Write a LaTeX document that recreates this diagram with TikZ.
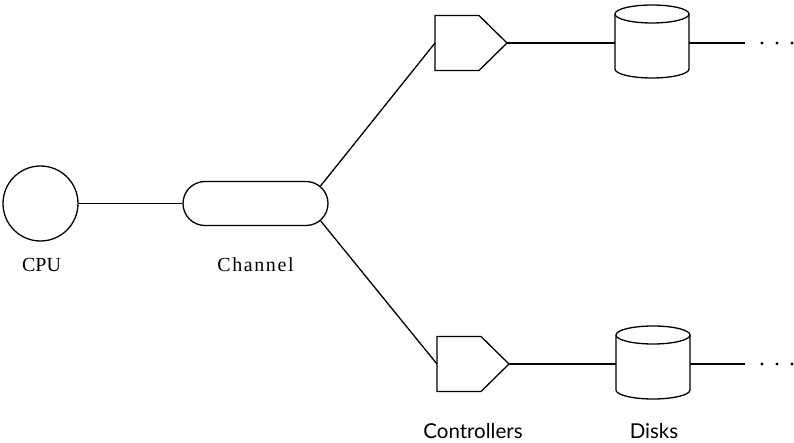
\documentclass[tikz,border=0pt]{standalone}
\usepackage{fontspec}
\setmainfont{Liberation Serif}
\newfontfamily\labelsans{Lato}
\usetikzlibrary{shapes.misc}

\tikzset{
  wire/.style={line width=1.3pt},
  hidden/.style={inner sep=0pt, outer sep=0pt},
  cpubox/.style={circle, draw, line width=1.3pt, minimum size=75pt, inner sep=0pt},
  chanbox/.style={rounded rectangle, draw, line width=1.3pt, minimum width=145pt, minimum height=44pt, inner sep=0pt},
  ctrlbox/.style={hidden, minimum width=72pt, minimum height=55pt},
  diskbox/.style={hidden, minimum width=74pt, minimum height=73pt},
  seriflabel/.style={anchor=base, inner sep=0pt, font=\fontsize{20}{24}\selectfont},
  sanslabel/.style={anchor=base, inner sep=0pt, font=\labelsans\fontsize{20.5}{24}\selectfont},
  dot/.style={circle, fill, inner sep=0pt, minimum size=3.2pt}
}

\begin{document}
\begin{tikzpicture}[x=1pt, y=-1pt]
\useasboundingbox (0,0) rectangle (794,443);

% processor and channel
\node[cpubox] (cpu) at (40.5,203.5) {};
\node[chanbox] (chan) at (255.5,203.5) {};
% centre of the channel's right-hand end, where the branches start
\node[hidden, circle, minimum size=44pt] (chanR) at (306.5,203.5) {};

% controllers
\node[ctrlbox] (c1) at (471,43) {};
\node[ctrlbox] (c2) at (473,364) {};
\foreach \c in {c1,c2}{
  \draw[wire] (\c.north west) -- ([xshift=-28pt]\c.north east) -- (\c.east)
    -- ([xshift=-28pt]\c.south east) -- (\c.south west) -- cycle;
}

% disks
\node[diskbox] (d1) at (652,43) {};
\node[diskbox] (d2) at (653,364) {};
\foreach \d in {d1,d2}{
  \draw[wire] ([yshift=29pt]\d.center) ellipse[x radius=37pt, y radius=9pt];
  \draw[wire] ([xshift=-37pt,yshift=29pt]\d.center) -- ([xshift=-37pt,yshift=-26pt]\d.center)
    arc[start angle=180, end angle=360, x radius=37pt, y radius=9pt]
    -- ([xshift=37pt,yshift=29pt]\d.center);
}

% free ends of the strings
\coordinate (e1) at (745,43);
\coordinate (e2) at (745,364);

% connections
\draw[wire] (cpu) -- (chan);
\draw[wire] (chanR) -- (c1.west);
\draw[wire] (chanR) -- (c2.west);
\draw[wire] (c1.east) -- (d1.west);
\draw[wire] (c2.east) -- (d2.west);
\draw[wire] (d1.east) -- (e1);
\draw[wire] (d2.east) -- (e2);

% continuation dots
\foreach \y/\n in {43/a,364/b}{
  \node[dot] (\n1) at (762,\y) {};
  \node[dot] (\n2) at (777,\y) {};
  \node[dot] (\n3) at (792,\y) {};
}

% labels
\node[seriflabel] (lcpu) at (41.5,272) {CPU};
\node[seriflabel] (lchan) at (255.5,272) {\addfontfeature{LetterSpace=8}Channel};
\node[sanslabel] (lctrl) at (473,438) {Controllers};
\node[sanslabel] (ldisk) at (654,438) {Disks};
\end{tikzpicture}
\end{document}
